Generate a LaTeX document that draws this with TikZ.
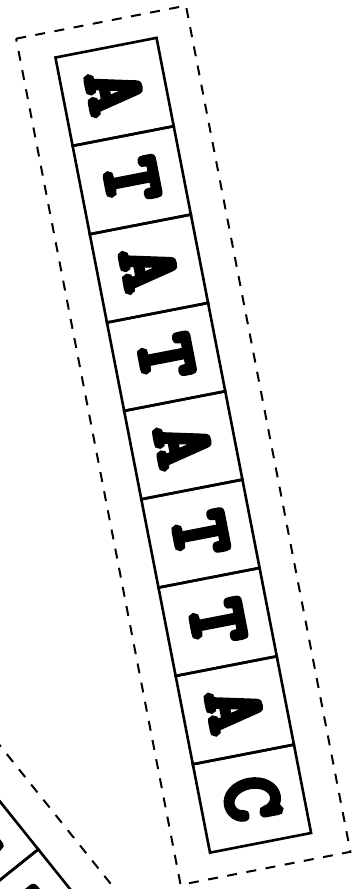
\documentclass[tikz,border=0pt]{standalone}
\usepackage{fontspec}
\newfontfamily\basefont{lmmonolt10-bold.otf}[FakeBold=5.5]

\begin{document}
\begin{tikzpicture}[
        x=1pt,y=1pt,
        basecell/.style={draw,line width=2.6pt,minimum width=90pt,minimum height=103pt,
            inner sep=0pt,font=\fontsize{84}{84}\selectfont\basefont},
        readframe/.style={draw,line width=2pt,dash pattern=on 10pt off 9.5pt},
        readstrip/.cd,
        letters/.initial={A},
        /tikz/pics/readstrip/.style={
            code={
                \pgfkeysgetvalue{/tikz/readstrip/letters}\readletters
                \foreach \base [count=\i] in \readletters {
                    \node[basecell] (-c\i) at ({90*\i-45},0) {\base};
                    \xdef\readlen{\i}
                }
                \draw[readframe] (-26,-86.5) rectangle ({90*\readlen+26},86.5);
            }
        }
    ]

\useasboundingbox (0,0) rectangle (357,889);
\clip (0,0) rectangle (357,889);

% the long read
\pic (mainread) [rotate=-79,transform shape,readstrip/.cd,letters={A,T,A,T,A,T,T,A,C}] at (106,841.3) {readstrip};

% the one that leaves the page
\pic (sideread) [rotate=-51.3,transform shape,readstrip/.cd,letters={T,T}] at (-58.2,77.7) {readstrip};

\end{tikzpicture}
\end{document}
